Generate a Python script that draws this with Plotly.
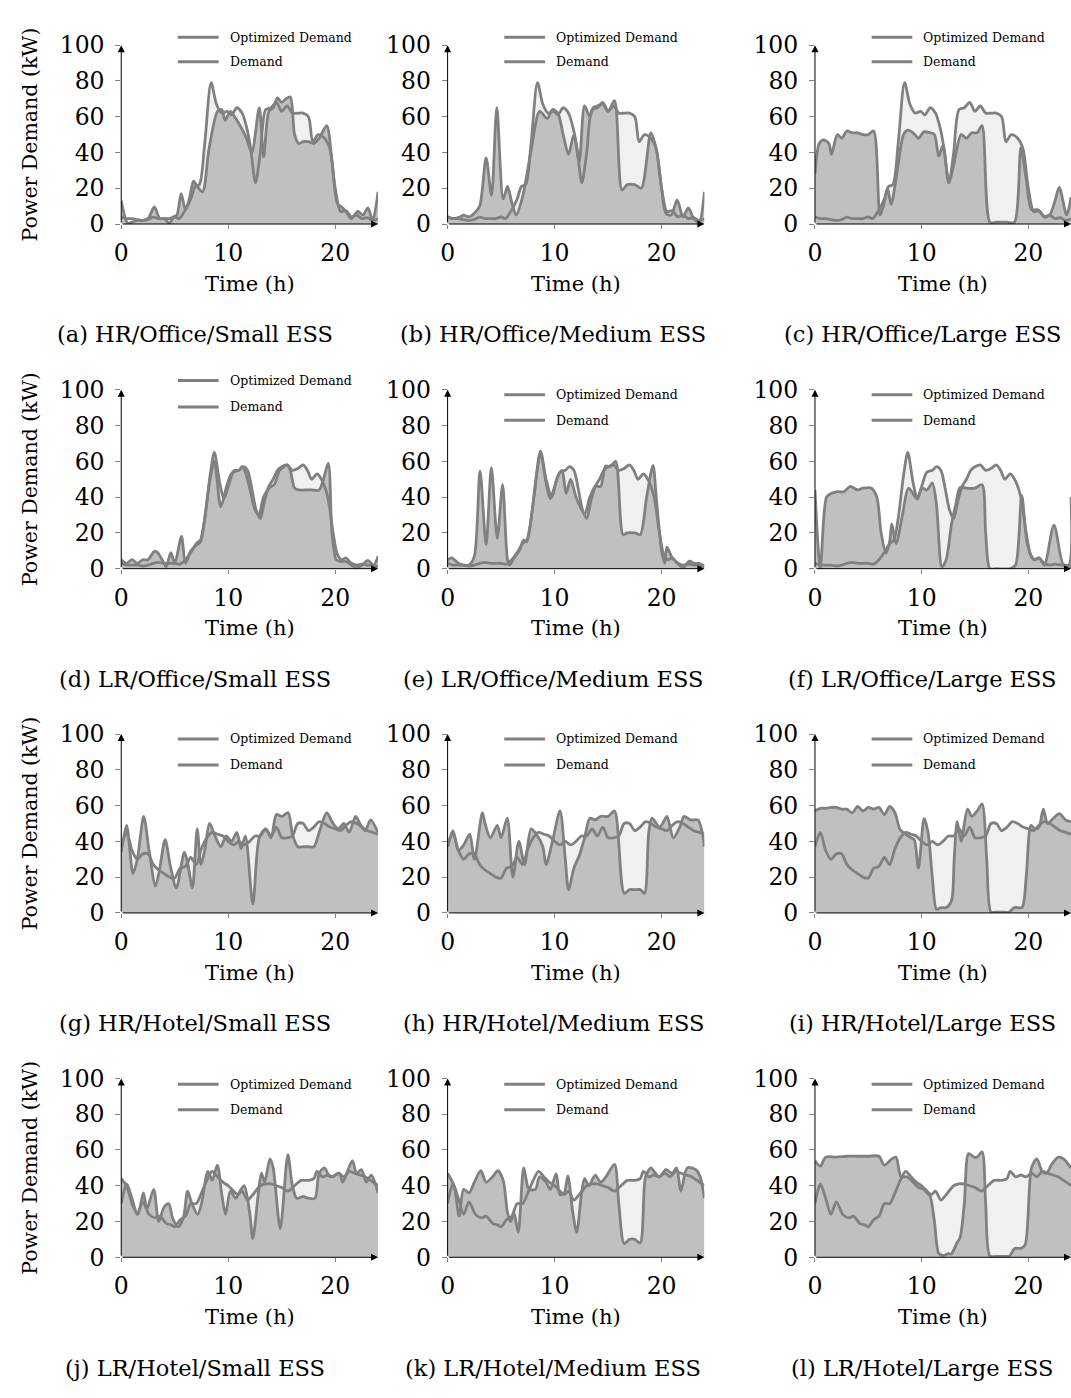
import plotly.graph_objects as go

# ---------------- data ----------------
HOUR_TICKS = [0, 10, 20]
KW_TICKS = [0, 20, 40, 60, 80, 100]
LEGEND_LABELS = ["Optimized Demand", "Demand"]
X_TITLE = "Time (h)"
Y_TITLE = "Power Demand (kW)"
CAPTIONS = ["(a) HR/Office/Small ESS", "(b) HR/Office/Medium ESS", "(c) HR/Office/Large ESS",
            "(d) LR/Office/Small ESS", "(e) LR/Office/Medium ESS", "(f) LR/Office/Large ESS",
            "(g) HR/Hotel/Small ESS", "(h) HR/Hotel/Medium ESS", "(i) HR/Hotel/Large ESS",
            "(j) LR/Hotel/Small ESS", "(k) LR/Hotel/Medium ESS", "(l) LR/Hotel/Large ESS"]

# --- demand profiles (same for the three ESS sizes of a building/rate) ---
HR_OFFICE_T = [0, 0.5, 1, 1.5, 2, 2.5, 3, 3.5, 4, 4.5, 5, 5.4, 6, 6.5, 6.9, 7.3, 7.8, 8.4, 8.9, 9.4,
               9.9, 10.3, 10.8, 11.3, 11.8, 12.1, 12.55, 13.0, 13.5, 14.0, 14.5, 15, 15.5, 16, 16.5, 17, 17.5, 17.9, 18.4, 19.0,
               19.5, 20, 20.5, 21, 21.5, 22, 22.5, 23, 23.5, 24]
HR_OFFICE_V = [4, 3, 3, 2.5, 2, 2.5, 3.8, 3, 3, 3, 4, 3, 8, 14, 21, 22, 45, 79, 67, 62,
               63, 61, 65, 62, 52, 42, 23, 40, 64, 65, 68, 63, 66, 62, 62, 62, 60, 46, 50, 48,
               42, 20, 7, 7.5, 4, 5, 3, 3.5, 2, 3]

LR_OFFICE_T = [0, 0.5, 1, 1.5, 2, 2.5, 3, 3.5, 4, 4.5, 5, 5.5, 6, 6.5, 7, 7.4, 7.8, 8.3, 8.7, 9.2,
               9.6, 10, 10.5, 11, 11.4, 11.8, 12.2, 12.6, 13.0, 13.4, 13.8, 14.2, 14.6, 15.0, 15.5, 16.0, 16.5, 17.0, 17.4, 17.8,
               18.3, 18.8, 19.3, 19.8, 20.2, 20.6, 21.0, 21.5, 22, 22.5, 23, 23.5, 24]
LR_OFFICE_V = [3, 2, 2, 2, 1.5, 2, 3, 3.5, 3, 3, 3, 2.5, 5, 9, 14, 16, 28, 52, 65, 48,
               39, 46, 54, 55, 57, 55, 45, 33, 28, 38, 46, 50, 55, 57, 58, 55, 56, 58, 55, 50,
               53, 49, 40, 20, 8, 5, 6, 3, 2, 2.5, 2, 2, 1]

HR_HOTEL_T = [0, 0.5, 1, 1.5, 2, 2.5, 3, 3.5, 4, 4.5, 5, 5.5, 6, 6.5, 7, 7.5, 8, 8.5, 9, 9.5,
              10, 10.5, 11, 11.5, 12, 12.5, 13, 13.5, 14, 14.5, 15, 15.5, 16, 16.5, 17, 17.5, 18, 18.5, 19, 19.5,
              20, 20.5, 21, 21.5, 22, 22.5, 23, 23.5, 24]
HR_HOTEL_V = [37, 45, 35, 30, 33, 33, 27, 24, 22, 20, 19.5, 25, 26, 31, 27, 36, 42, 45, 44, 43,
              40, 38, 40, 38, 40, 43, 43, 47, 43, 48, 42, 42, 43, 50, 50, 46, 48, 51, 50, 48,
              47, 46, 49, 51, 50, 48, 46, 45, 44]

LR_HOTEL_T = [0, 0.5, 1, 1.5, 2, 2.6, 3.2, 3.6, 4.2, 4.7, 5.0, 5.5, 6.0, 6.5, 7.0, 7.5, 8.0, 8.5, 9.0, 9.5,
              10.0, 10.5, 10.9, 11.3, 11.8, 12.3, 13.0, 13.5, 14.0, 14.5, 15.0, 15.6, 16.2, 16.8, 17.5, 18.0, 18.3, 18.8, 19.3, 19.8,
              20.3, 20.8, 21.3, 21.8, 22.3, 22.8, 23.3, 23.8, 24]
LR_HOTEL_V = [30, 41, 33, 24, 31, 24, 22, 23, 19, 18, 17, 21, 23, 30, 30, 36, 43, 48, 45, 42,
              40, 37, 35, 37, 32, 35, 40, 41, 41, 40, 39, 37, 40, 43, 43, 44, 48, 45, 46, 45,
              47, 45, 48, 47, 46, 45, 43, 41, 40]

# --- optimized demand, one per panel ---
OPT_A_T = [0, 0.6, 1, 1.5, 2, 2.5, 3.1, 3.6, 4, 4.5, 4.9, 5.2, 5.6, 6.0, 6.4, 6.75, 7.1, 7.6, 8.2, 9.0,
           9.4, 9.7, 10.2, 10.6, 11.2, 11.7, 12.2, 12.9, 13.3, 13.8, 14.2, 14.6, 15.0, 15.4, 15.8, 16.2, 16.6, 17.0, 17.5, 18.0,
           18.5, 19.2, 19.7, 20.2, 20.7, 21.0, 21.5, 22.1, 22.6, 23.05, 23.5, 24]
OPT_A_V = [13, 0.5, 1, 2, 2, 3, 9.5, 3, 3, 0.5, 4, 5, 17, 8, 15, 24, 21, 18, 42, 63,
           64, 58, 63, 60, 54, 48, 40, 65, 37.5, 63, 65, 70.5, 68, 70, 71, 50, 45, 46, 46, 45,
           48, 55, 35, 11.5, 9, 7, 3, 7, 5, 9, 2, 18]

OPT_B_T = [0, 0.5, 1.2, 1.5, 2, 2.5, 3.0, 3.6, 4.1, 4.6, 5.2, 5.6, 6.0, 6.4, 7.0, 7.8, 8.6, 9.3, 9.8, 10.3,
           10.8, 11.3, 11.8, 12.3, 12.8, 13.3, 13.6, 14.0, 14.5, 15.0, 15.6, 16.3, 16.8, 17.5, 18.1, 19.0, 19.5, 20.0, 20.4, 20.9,
           21.45, 22.0, 22.5, 23.0, 23.5, 24]
OPT_B_V = [4, 3, 4, 5, 4, 6, 10, 37, 16, 65, 14, 21, 12, 5, 15, 41, 63, 59, 64, 62,
           50, 39, 50, 35, 66, 60, 65, 66, 67, 63, 69, 19, 22, 22, 20, 51, 42, 20, 6, 5,
           13.5, 4, 9, 3, 1, 18]

OPT_C_T = [0, 0.4, 0.8, 1.3, 1.55, 2.1, 2.5, 3.0, 3.5, 4.0, 4.5, 5.0, 5.5, 6.1, 6.5, 6.8, 7.13, 7.6, 8.3, 8.7,
           9.2, 9.7, 10.2, 10.8, 11.2, 11.6, 12.0, 12.55, 13.0, 13.7, 14.2, 14.7, 15.2, 15.66, 16.4, 17.0, 18.0, 18.7, 19.3, 19.8,
           20.3, 20.9, 21.5, 22.0, 22.5, 22.9, 23.6, 24]
OPT_C_V = [28, 45, 47, 45, 39, 50, 48, 52, 51, 51, 50, 50, 52, 5, 12, 20, 11, 25, 50, 52.5,
           51, 48, 51.5, 51, 50, 38, 44, 23, 33, 50, 48, 51, 51, 55, 1, 1, 1, 1, 42.5, 25,
           8, 8, 4, 5, 13, 20.5, 5, 15]

OPT_D_T = [0, 0.5, 1, 1.5, 2, 2.5, 3.1, 3.4, 4.0, 4.2, 4.64, 5.0, 5.63, 6.0, 6.5, 7.0, 7.4, 7.8, 8.3, 8.7,
           9.3, 9.8, 10.2, 10.6, 11.0, 11.3, 11.6, 12.0, 12.5, 12.85, 13.3, 13.8, 14.3, 14.8, 15.2, 15.5, 15.8, 16.2, 16.6, 17.2,
           17.8, 18.5, 18.9, 19.35, 19.7, 20.1, 20.5, 21.0, 21.5, 22.0, 22.5, 23.06, 23.6, 24]
OPT_D_V = [5, 3, 5, 3, 5, 5, 9.7, 9, 3, 1, 9, 3, 18, 3, 10, 13, 15, 28, 50, 60,
           34.5, 45, 52, 55, 55, 57, 54, 45, 33, 30, 40, 45, 47, 55, 57, 58, 55, 45, 44, 44,
           44, 44, 50, 59, 20, 5, 4, 4, 2, 0.5, 2, 4.6, 2, 7]

OPT_E_T = [0, 0.4, 1.0, 1.5, 2.0, 2.5, 3.03, 3.6, 4.09, 4.64, 5.14, 5.6, 5.8, 6.2, 6.7, 7.1, 7.4, 8.05, 8.67, 9.2,
           9.75, 10.2, 10.7, 11.08, 11.5, 12.0, 12.8, 13.3, 13.8, 14.3, 14.77, 15.2, 15.7, 16.4, 16.8, 17.5, 18.0, 18.6, 19.2, 19.5,
           20.0, 20.3, 20.5, 21.0, 21.5, 22.0, 22.6, 23.0, 23.5, 24]
OPT_E_V = [5, 6, 3, 2, 2, 7, 54.7, 13.4, 56.5, 17, 47, 5, 2, 6, 10, 16, 15, 39, 65.7, 50,
           40, 50, 55, 42, 50, 40, 30.8, 40, 46, 46, 57.4, 57, 60, 19, 20, 20, 19, 40, 57.8, 40,
           10, 3, 12, 6, 3, 0.5, 4.2, 3, 3, 1.5]

OPT_F_T = [0, 0.5, 1.08, 1.5, 2.0, 2.7, 3.3, 4.0, 4.5, 5.3, 5.8, 6.2, 6.66, 7.0, 7.2, 7.6, 8.2, 8.77, 9.6, 10.0,
           10.5, 11.0, 11.4, 11.9, 12.3, 12.8, 13.2, 13.6, 14.2, 15.0, 15.66, 16.0, 16.4, 17.0, 18.3, 18.8, 19.38, 19.9, 20.5, 21.0,
           21.5, 22.4, 23.3, 23.8, 24]
OPT_F_V = [44, 0.5, 40, 42, 43, 43, 46, 44, 45, 45, 40, 20, 8.8, 15, 25, 14, 30, 45, 39, 45,
           44, 47.9, 35, 1, 5, 25, 36, 45.5, 45, 45, 47, 20, 0, 0, 0, 2, 41, 14, 5, 6,
           2, 24.4, 2, 2, 40]

OPT_G_T = [0, 0.5, 1.1, 1.5, 2.1, 2.6, 3.2, 3.6, 4.1, 4.6, 5.15, 5.9, 6.2, 6.65, 7.1, 7.45, 7.8, 8.25, 8.7, 9.3,
           9.8, 10.3, 10.8, 11.2, 11.6, 12.3, 12.9, 13.5, 14.0, 14.5, 15.0, 15.6, 16.0, 16.5, 17.0, 17.5, 18.0, 18.6, 19.2, 19.8,
           20.3, 20.8, 21.3, 21.9, 22.3, 22.8, 23.3, 24]
OPT_G_V = [34, 49, 22, 30, 54, 35, 15, 25, 41, 26, 14, 34, 28, 14, 47, 27, 35, 50, 44, 37,
           43, 40, 45, 36, 43, 5, 42, 47, 42, 55, 54, 56, 44, 37, 37, 37, 37, 47, 56, 50,
           47, 50, 45, 54, 50, 46, 52, 45]

OPT_H_T = [0, 0.5, 1.0, 1.5, 2.07, 2.5, 3.25, 3.5, 4.0, 4.64, 5.0, 5.57, 6.1, 6.66, 7.2, 7.8, 8.3, 8.9, 9.2, 9.8,
           10.5, 11.0, 11.3, 11.8, 12.3, 12.8, 13.3, 13.8, 14.3, 15.0, 15.6, 16.5, 17.0, 17.5, 18.0, 18.4, 18.8, 19.1, 19.8, 20.1,
           20.5, 21.1, 21.7, 22.1, 22.7, 23.4, 23.8, 24]
OPT_H_V = [37, 46, 35, 38, 44, 30, 56, 50, 42, 49, 42, 53, 20, 40, 27, 47, 44, 37, 27, 40,
           57, 30, 13, 25, 32, 42, 53, 52, 54, 54, 57, 11, 13, 13, 13, 11, 45, 53, 48, 50,
           54, 42, 48, 54, 52, 52, 45, 37]

OPT_I_T = [0, 0.5, 1.0, 1.5, 2.0, 2.5, 3.0, 3.5, 4.0, 4.5, 5.0, 5.5, 6.0, 6.5, 7.0, 7.5, 7.97, 8.5, 9.0, 9.3,
           9.7, 10.23, 10.6, 11.0, 11.4, 11.8, 12.3, 12.8, 13.05, 13.33, 13.7, 14.3, 14.7, 15.2, 15.66, 16.1, 16.5, 17.0, 17.5, 18.2,
           18.7, 19.4, 19.8, 20.25, 20.6, 21.0, 21.4, 21.8, 22.2, 22.9, 23.5, 24]
OPT_I_V = [57, 58.5, 58.5, 59, 59, 58, 58, 56, 59.5, 57, 59, 58, 59, 55, 59.5, 56, 46.7, 44, 42, 41,
           25, 52.8, 45, 20, 2, 3, 3, 7, 30, 51, 40, 58, 54, 57, 61, 30, 0.5, 0.5, 0.5, 0.5,
           3, 3, 20, 49, 47, 48, 58, 50, 52, 55.5, 52, 51]

OPT_J_T = [0, 0.5, 1.0, 1.55, 2.07, 2.4, 3.03, 3.5, 4.0, 4.43, 4.8, 5.3, 5.8, 6.2, 6.6, 7.15, 7.5, 8.1, 8.5, 8.98,
           9.4, 9.75, 10.2, 10.7, 11.1, 11.5, 12.0, 12.3, 12.8, 13.1, 13.4, 13.9, 14.2, 14.86, 15.57, 16.0, 16.4, 17.0, 17.5, 18.1,
           18.5, 19.0, 19.5, 20.0, 20.4, 20.7, 21.6, 22.0, 22.45, 22.9, 23.37, 24]
OPT_J_V = [44, 40, 30, 24, 36, 27, 38, 20, 28, 30, 22, 17, 22, 37, 30, 24, 30, 48, 43, 51.5,
           35, 24, 37, 33, 37, 40, 25, 10.4, 35, 47, 42, 55, 50, 16, 57.4, 40, 33, 34, 33, 33,
           47, 50, 45, 46, 47, 42, 54, 47, 49, 42, 46, 36]

OPT_K_T = [0, 0.6, 1.08, 1.5, 2.0, 2.5, 3.1, 3.6, 4.2, 4.7, 5.2, 5.6, 5.9, 6.2, 6.6, 7.12, 7.6, 8.2, 8.6, 9.2,
           9.6, 10.15, 10.5, 10.9, 11.24, 11.7, 12.07, 12.5, 12.8, 13.2, 13.8, 14.3, 14.8, 15.6, 16.0, 16.5, 17.0, 17.5, 18.0, 18.5,
           19.0, 19.3, 19.8, 20.4, 21.0, 21.4, 21.8, 22.4, 23.2, 23.6, 24]
OPT_K_V = [47, 40, 23, 38, 36, 42, 48.4, 42, 45, 48.4, 43, 25, 20, 25, 14, 50, 38, 38, 45, 42,
           38, 46.6, 35, 36, 45.5, 25, 14, 35, 44, 40, 46, 42, 45, 52, 30, 7.7, 10, 10, 8, 45,
           50, 48, 45, 49, 47, 50, 37, 50, 49, 45, 33]

OPT_L_T = [0, 0.5, 1.0, 2.0, 3.0, 4.0, 5.0, 6.0, 6.5, 7.2, 7.6, 8.06, 8.6, 9.2, 9.7, 10.2, 10.5, 10.8, 11.2, 11.6,
           12.0, 12.5, 12.8, 13.3, 13.6, 14.0, 14.4, 14.9, 15.2, 15.66, 16.0, 16.4, 17.0, 18.0, 18.2, 18.76, 19.3, 19.7, 20.3, 20.8,
           21.3, 21.7, 22.2, 22.8, 23.3, 24]
OPT_L_V = [54, 51, 56, 56, 56.5, 56.5, 56.5, 56.5, 51.5, 55, 56, 45, 45, 42, 39, 38, 36, 34, 20, 2.2,
           1, 2, 2, 8, 11, 30, 58, 56, 56, 59, 30, 0.7, 0.5, 0.5, 0.5, 5, 5, 7, 50, 55,
           48, 47, 52, 56, 55, 50]

PANELS = [
    (HR_OFFICE_T, HR_OFFICE_V, OPT_A_T, OPT_A_V),
    (HR_OFFICE_T, HR_OFFICE_V, OPT_B_T, OPT_B_V),
    (HR_OFFICE_T, HR_OFFICE_V, OPT_C_T, OPT_C_V),
    (LR_OFFICE_T, LR_OFFICE_V, OPT_D_T, OPT_D_V),
    (LR_OFFICE_T, LR_OFFICE_V, OPT_E_T, OPT_E_V),
    (LR_OFFICE_T, LR_OFFICE_V, OPT_F_T, OPT_F_V),
    (HR_HOTEL_T, HR_HOTEL_V, OPT_G_T, OPT_G_V),
    (HR_HOTEL_T, HR_HOTEL_V, OPT_H_T, OPT_H_V),
    (HR_HOTEL_T, HR_HOTEL_V, OPT_I_T, OPT_I_V),
    (LR_HOTEL_T, LR_HOTEL_V, OPT_J_T, OPT_J_V),
    (LR_HOTEL_T, LR_HOTEL_V, OPT_K_T, OPT_K_V),
    (LR_HOTEL_T, LR_HOTEL_V, OPT_L_T, OPT_L_V),
]

# ---------------- layout geometry (pixels) ----------------
W, H = 1071, 1398
COL_X0 = [115.0, 443.5, 813.3]
PX_PER_H = 10.77
ROW_Y0 = [214.3, 566.0, 917.3, 1268.7]
PLOT_H = 182.5
CAPTION_X = [189.5, 550.0, 921.5]
LEGEND_OFFSETS = [[(-8, 17)] * 3,
                  [(-9.5, 17.5), (5, 31), (5, 31)],
                  [(5, 31.5)] * 3,
                  [(6, 32)] * 3]

FONT = "DejaVu Serif"
LINE_C = "#808080"
DARK_FILL = "#c0c0c0"
LIGHT_FILL = "#f0f0f0"


def fx(px):
    return px / W


def fy(py):
    return 1 - py / H


fig = go.Figure()
layout = dict(width=W, height=H, margin=dict(l=0, r=0, t=0, b=0),
              paper_bgcolor="white", plot_bgcolor="white", showlegend=False)
annotations = []
shapes = []

for i, (dt, dv, ot, ov) in enumerate(PANELS):
    r, c = divmod(i, 3)
    sfx = "" if i == 0 else str(i + 1)
    xa, ya = "x" + sfx, "y" + sfx
    x0 = COL_X0[c]
    x1 = x0 + 24 * PX_PER_H
    y0 = ROW_Y0[r]
    ytop = y0 - PLOT_H

    layout["xaxis" + sfx] = dict(
        domain=[fx(x0), min(1.0, fx(x1))], range=[0, 24], anchor=ya,
        tickvals=HOUR_TICKS, ticks="outside", ticklen=4, tickcolor=LINE_C,
        showline=False, zeroline=False, showgrid=False, fixedrange=True,
        tickfont=dict(family=FONT, size=23.5, color="black"), ticklabelstandoff=4)
    layout["yaxis" + sfx] = dict(
        domain=[fy(y0), fy(ytop)], range=[0, 100], anchor=xa,
        tickvals=KW_TICKS, ticks="outside", ticklen=5, tickcolor=LINE_C,
        showline=False, zeroline=False, showgrid=False, fixedrange=True,
        tickfont=dict(family=FONT, size=23.5, color="black"), ticklabelstandoff=6)

    common = dict(xaxis=xa, yaxis=ya, mode="lines", hoverinfo="skip", showlegend=False)
    fig.add_trace(go.Scatter(x=dt, y=dv, fill="tozeroy", fillcolor=LIGHT_FILL,
                             line=dict(width=0, shape="spline", smoothing=0.8), **common))
    fig.add_trace(go.Scatter(x=ot, y=ov, fill="tozeroy", fillcolor=DARK_FILL,
                             line=dict(width=0, shape="spline", smoothing=0.8), **common))
    fig.add_trace(go.Scatter(x=dt, y=dv, line=dict(color=LINE_C, width=2.8, shape="spline", smoothing=0.8), **common))
    fig.add_trace(go.Scatter(x=ot, y=ov, line=dict(color=LINE_C, width=2.8, shape="spline", smoothing=0.8), **common))

    # axes with arrow heads
    annotations.append(dict(x=0, y=100, ax=0, ay=0, xref=xa, yref=ya, axref=xa, ayref=ya,
                            text="", showarrow=True, arrowhead=2, arrowsize=1.4, arrowwidth=1,
                            arrowcolor="black", standoff=0, startstandoff=0))
    annotations.append(dict(x=24, y=0, ax=0, ay=0, xref=xa, yref=ya, axref=xa, ayref=ya,
                            text="", showarrow=True, arrowhead=2, arrowsize=1.4, arrowwidth=1,
                            arrowcolor="black", standoff=0, startstandoff=0))

    # legend
    for k, lab in enumerate(LEGEND_LABELS):
        ly = ytop + LEGEND_OFFSETS[r][c][k]
        shapes.append(dict(type="line", xref="paper", yref="paper",
                           x0=fx(x0 + 57), x1=fx(x0 + 98), y0=fy(ly), y1=fy(ly),
                           line=dict(color=LINE_C, width=3)))
        annotations.append(dict(x=fx(x0 + 107), y=fy(ly), xref="paper", yref="paper",
                                text=lab, showarrow=False, xanchor="left", yanchor="middle",
                                font=dict(family=FONT, size=12.5, color="black")))

    # x title
    annotations.append(dict(x=fx((x0 + x0 + 24 * PX_PER_H) / 2), y=fy(y0 + 61), xref="paper", yref="paper",
                            text=X_TITLE, showarrow=False, xanchor="center", yanchor="middle",
                            font=dict(family=FONT, size=21, color="black")))
    # y title (first column only)
    if c == 0:
        annotations.append(dict(x=fx(23), y=fy(y0 - PLOT_H / 2), xref="paper", yref="paper",
                                text=Y_TITLE, showarrow=False, textangle=-90,
                                xanchor="center", yanchor="middle",
                                font=dict(family=FONT, size=20.5, color="black")))
    # caption
    annotations.append(dict(x=fx(CAPTION_X[c]), y=fy(y0 + 112.5), xref="paper", yref="paper",
                            text=CAPTIONS[i], showarrow=False, xanchor="center", yanchor="middle",
                            font=dict(family=FONT, size=22.5, color="black")))

layout["annotations"] = annotations
layout["shapes"] = shapes
fig.update_layout(**layout)
fig.write_html("out.html",
               post_script="document.body.style.margin='0';document.body.style.overflow='hidden';")
